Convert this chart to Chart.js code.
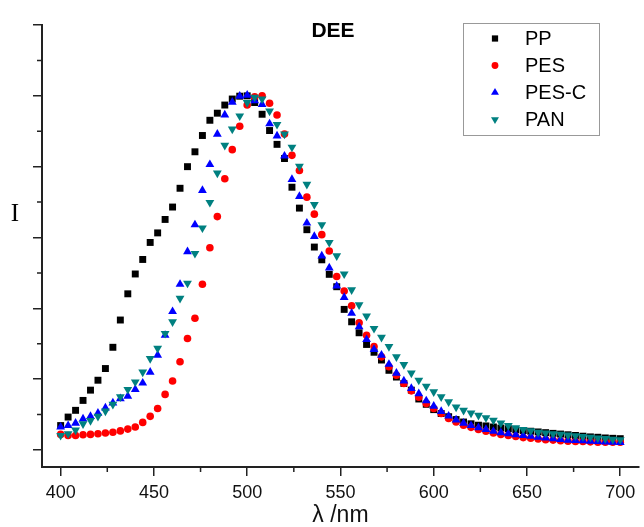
<!DOCTYPE html>
<html>
<head>
<meta charset="utf-8">
<script src="https://cdn.jsdelivr.net/npm/chart.js@4.4.0/dist/chart.umd.min.js"></script>
<style>
  body { margin: 0; background: #fff; }
  canvas { display: block; }
</style>
</head>
<body>
<canvas id="chart" width="644" height="527"></canvas>
<script>
/* globals Chart:false */
'use strict'

const wavelengths = [
  400, 404, 408, 412, 416, 420, 424, 428, 432, 436,
  440, 444, 448, 452, 456, 460, 464, 468, 472, 476,
  480, 484, 488, 492, 496, 500, 504, 508, 512, 516,
  520, 524, 528, 532, 536, 540, 544, 548, 552, 556,
  560, 564, 568, 572, 576, 580, 584, 588, 592, 596,
  600, 604, 608, 612, 616, 620, 624, 628, 632, 636,
  640, 644, 648, 652, 656, 660, 664, 668, 672, 676,
  680, 684, 688, 692, 696, 700
]

const ppValues = [
  0.069, 0.093, 0.112, 0.140, 0.169, 0.197, 0.230, 0.290, 0.367, 0.441,
  0.497, 0.538, 0.586, 0.613, 0.651, 0.686, 0.739, 0.800, 0.842, 0.888,
  0.931, 0.951, 0.974, 0.991, 0.999, 1.000, 0.981, 0.948, 0.902, 0.863,
  0.823, 0.742, 0.683, 0.622, 0.573, 0.537, 0.496, 0.461, 0.397, 0.362,
  0.331, 0.298, 0.276, 0.254, 0.225, 0.206, 0.188, 0.169, 0.144, 0.129,
  0.114, 0.103, 0.094, 0.086, 0.079, 0.074, 0.070, 0.068, 0.065, 0.062,
  0.060, 0.057, 0.055, 0.053, 0.051, 0.049, 0.047, 0.045, 0.043, 0.041,
  0.039, 0.037, 0.036, 0.034, 0.033, 0.032
]

const pesValues = [
  0.044, 0.041, 0.041, 0.043, 0.044, 0.046, 0.048, 0.050, 0.054, 0.059,
  0.065, 0.078, 0.095, 0.117, 0.157, 0.195, 0.249, 0.315, 0.372, 0.468,
  0.571, 0.659, 0.766, 0.848, 0.914, 0.974, 0.997, 1.000, 0.979, 0.946,
  0.892, 0.832, 0.789, 0.714, 0.666, 0.608, 0.562, 0.490, 0.449, 0.407,
  0.359, 0.324, 0.292, 0.263, 0.235, 0.211, 0.188, 0.167, 0.149, 0.131,
  0.117, 0.103, 0.089, 0.079, 0.070, 0.064, 0.058, 0.053, 0.048, 0.044,
  0.041, 0.038, 0.035, 0.033, 0.031, 0.029, 0.028, 0.026, 0.025, 0.024,
  0.024, 0.023, 0.022, 0.022, 0.022, 0.022
]

const pescValues = [
  0.065, 0.069, 0.076, 0.088, 0.095, 0.104, 0.119, 0.133, 0.145, 0.152,
  0.171, 0.189, 0.220, 0.268, 0.324, 0.391, 0.468, 0.560, 0.636, 0.733,
  0.806, 0.892, 0.946, 0.982, 0.999, 1.002, 0.986, 0.976, 0.921, 0.887,
  0.830, 0.764, 0.716, 0.641, 0.603, 0.548, 0.514, 0.463, 0.431, 0.386,
  0.348, 0.312, 0.284, 0.268, 0.242, 0.217, 0.195, 0.174, 0.159, 0.139,
  0.124, 0.109, 0.096, 0.085, 0.076, 0.069, 0.063, 0.058, 0.053, 0.049,
  0.046, 0.043, 0.041, 0.039, 0.036, 0.034, 0.032, 0.030, 0.028, 0.027,
  0.026, 0.025, 0.024, 0.023, 0.022, 0.021
]

const panValues = [
  0.041, 0.046, 0.056, 0.074, 0.083, 0.095, 0.110, 0.129, 0.150, 0.171,
  0.192, 0.220, 0.258, 0.287, 0.329, 0.362, 0.428, 0.471, 0.555, 0.627,
  0.699, 0.782, 0.860, 0.906, 0.943, 0.981, 0.996, 0.991, 0.957, 0.919,
  0.892, 0.855, 0.801, 0.750, 0.693, 0.636, 0.586, 0.548, 0.497, 0.452,
  0.410, 0.378, 0.343, 0.318, 0.292, 0.263, 0.241, 0.217, 0.197, 0.180,
  0.164, 0.150, 0.136, 0.121, 0.112, 0.104, 0.098, 0.091, 0.084, 0.076,
  0.069, 0.063, 0.058, 0.054, 0.050, 0.048, 0.046, 0.044, 0.042, 0.040,
  0.038, 0.036, 0.034, 0.032, 0.030, 0.029
]

const seriesNames = ['PP', 'PES', 'PES-C', 'PAN']
const xTicks = [400, 450, 500, 550, 600, 650, 700]
const xMinorTicks = [425, 475, 525, 575, 625, 675]
const yTicks = [0, 0.2, 0.4, 0.6, 0.8, 1.0, 1.2]
const yMinorTicks = [0.1, 0.3, 0.5, 0.7, 0.9, 1.1]

const AXIS_COLOR = '#222'


function toPoints (values) {
  return values.map((v, i) => ({ x: wavelengths[i], y: v }))
}


// short ticks between the labelled ones
const minorTicks = {
  id: 'minorTicks',
  afterDraw (chart) {
    const ctx = chart.ctx
    const area = chart.chartArea
    const xs = chart.scales.x
    const ys = chart.scales.y
    ctx.save()
    ctx.strokeStyle = AXIS_COLOR
    ctx.lineWidth = 1.5
    ctx.beginPath()
    xMinorTicks.forEach(v => {
      const px = xs.getPixelForValue(v)
      ctx.moveTo(px, area.bottom)
      ctx.lineTo(px, area.bottom + 5)
    })
    yMinorTicks.forEach(v => {
      const py = ys.getPixelForValue(v)
      ctx.moveTo(area.left, py)
      ctx.lineTo(area.left - 5, py)
    })
    ctx.stroke()
    ctx.restore()
  }
}


// title, y label and boxed legend
const extraText = {
  id: 'extraText',
  afterDraw (chart) {
    const ctx = chart.ctx
    ctx.save()
    ctx.fillStyle = '#000'
    ctx.textAlign = 'center'
    ctx.textBaseline = 'middle'
    ctx.font = 'bold 21px "Liberation Sans", Arial, sans-serif'
    ctx.fillText('DEE', 333, 31)
    ctx.font = '25px "Liberation Serif", "Times New Roman", serif'
    ctx.fillText('I', 15, 214)

    ctx.strokeStyle = '#999'
    ctx.lineWidth = 1
    ctx.strokeRect(463.5, 23.5, 136, 112)
    ctx.textAlign = 'left'
    ctx.font = '20px "Liberation Sans", Arial, sans-serif'
    chart.data.datasets.forEach((ds, i) => {
      const y = 38.5 + i * 27
      ctx.fillStyle = ds.backgroundColor
      Chart.helpers.drawPoint(ctx, {
        pointStyle: ds.pointStyle,
        radius: ds.pointRadius * 0.9,
        rotation: ds.pointRotation || 0,
        borderWidth: 0
      }, 495, y)
      ctx.fillStyle = '#000'
      ctx.fillText(ds.label, 525, y + 1)
    })
    ctx.restore()
  }
}


const datasets = [
  { label: seriesNames[0], data: toPoints(ppValues), backgroundColor: '#000000', pointStyle: 'rect', pointRadius: 4.9, order: 4 },
  { label: seriesNames[1], data: toPoints(pesValues), backgroundColor: '#ff0000', pointStyle: 'circle', pointRadius: 3.8, order: 3 },
  { label: seriesNames[2], data: toPoints(pescValues), backgroundColor: '#0000ff', pointStyle: 'triangle', pointRadius: 5.1, order: 2 },
  { label: seriesNames[3], data: toPoints(panValues), backgroundColor: '#008080', pointStyle: 'triangle', pointRotation: 180, pointRadius: 5.1, order: 1 }
]
datasets.forEach(ds => {
  ds.borderWidth = 0
  ds.pointBorderWidth = 0
  ds.showLine = false
})

const chart = new Chart(document.getElementById('chart').getContext('2d'), {
  type: 'scatter',
  data: { datasets: datasets },
  options: {
    responsive: false,
    animation: false,
    layout: { padding: { top: 25, right: 4, left: 0, bottom: 0 } },
    plugins: {
      legend: { display: false },
      tooltip: { enabled: false }
    },
    scales: {
      x: {
        type: 'linear',
        min: 390,
        max: 710,
        afterBuildTicks: s => { s.ticks = xTicks.map(v => ({ value: v })) },
        afterFit: s => { s.height = 60 },
        border: { color: AXIS_COLOR, width: 2 },
        grid: { drawOnChartArea: false, drawTicks: true, tickLength: 9, color: AXIS_COLOR, lineWidth: 1.5 },
        ticks: {
          color: '#111',
          padding: 6,
          maxRotation: 0,
          autoSkip: false,
          font: { family: '"Liberation Sans", Arial, sans-serif', size: 18 }
        },
        title: {
          display: true,
          text: 'λ /nm',
          color: '#111',
          padding: { top: 0, bottom: -2 },
          font: { family: '"Liberation Sans", Arial, sans-serif', size: 23 }
        }
      },
      y: {
        type: 'linear',
        min: -0.048,
        max: 1.2,
        afterBuildTicks: s => { s.ticks = yTicks.map(v => ({ value: v })) },
        afterFit: s => { s.width = 42 },
        border: { color: AXIS_COLOR, width: 2 },
        grid: { drawOnChartArea: false, drawTicks: true, tickLength: 9, color: AXIS_COLOR, lineWidth: 1.5 },
        ticks: { display: false }
      }
    }
  },
  plugins: [minorTicks, extraText]
})
</script>
</body>
</html>
